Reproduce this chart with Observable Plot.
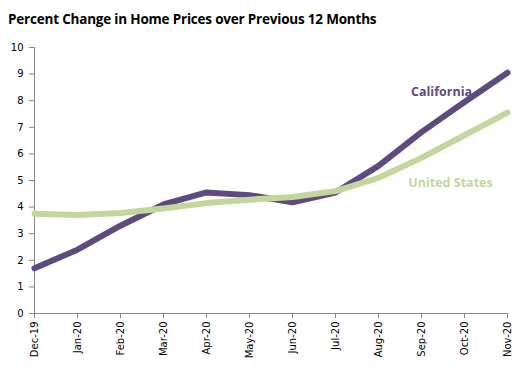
<!DOCTYPE html>
<html><head><meta charset="utf-8">
<script src="https://cdn.jsdelivr.net/npm/d3@7"></script>
<script src="https://cdn.jsdelivr.net/npm/@observablehq/plot@0.6"></script>
<style>
body{margin:0;background:#fff;}
#title{font-family:"Open Sans",Lato,sans-serif;font-weight:bold;font-size:13.5px;color:#000;height:30px;line-height:30px;padding-left:8px;padding-top:4px;box-sizing:border-box;letter-spacing:-0.2px;}
</style></head>
<body>
<div id="title">Percent Change in Home Prices over Previous 12 Months</div>
<div id="chart"></div>
<script>
const months = ["Dec-19","Jan-20","Feb-20","Mar-20","Apr-20","May-20","Jun-20","Jul-20","Aug-20","Sep-20","Oct-20","Nov-20"];
const california = [1.7,2.4,3.3,4.1,4.55,4.45,4.18,4.55,5.55,6.82,7.95,9.05];
const unitedStates = [3.75,3.7,3.78,3.95,4.15,4.28,4.38,4.6,5.1,5.85,6.7,7.55];
const yTicks = [0,1,2,3,4,5,6,7,8,9,10];
const seriesNames = ["California","United States"];
const colors = ["#5E4A7E","#C3D69B"];

const data = [];
months.forEach((m,i)=>{
  data.push({month:m, value:california[i], series:seriesNames[0]});
  data.push({month:m, value:unitedStates[i], series:seriesNames[1]});
});

const chart = Plot.plot({
  width:531, height:342,
  marginLeft:34, marginRight:24, marginTop:17, marginBottom:59,
  style:{fontFamily:"DejaVu Sans, Verdana, sans-serif", fontSize:"10px", color:"#000"},
  x:{type:"point", domain:months, padding:0, label:null},
  y:{domain:[0,10], label:null},
  color:{domain:seriesNames, range:colors},
  marks:[
    Plot.ruleY([0],{stroke:"#868686"}),
    Plot.ruleX([months[0]],{stroke:"#868686"}),
    Plot.axisY(yTicks,{tickSize:5, tickPadding:6, stroke:"#868686", fill:"#000", label:null}),
    Plot.axisX(months,{tickSize:5, tickPadding:3, tickRotate:-90, stroke:"#868686", fill:"#000", label:null}),
    Plot.line(data,{x:"month", y:"value", z:"series", stroke:"series", strokeWidth:6, curve:"linear", strokeLinejoin:"round"}),
    Plot.text([seriesNames[0]],{x:()=>"Oct-20", y:()=>8.31, dx:-23, text:d=>d, fill:colors[0], fontWeight:"bold", fontSize:12.5, fontFamily:"Open Sans, sans-serif"}),
    Plot.text([seriesNames[1]],{x:()=>"Oct-20", y:()=>4.92, dx:-14, text:d=>d, fill:colors[1], fontWeight:"bold", fontSize:12.5, fontFamily:"Open Sans, sans-serif"})
  ]
});
document.getElementById("chart").appendChild(chart);
</script>
</body></html>
